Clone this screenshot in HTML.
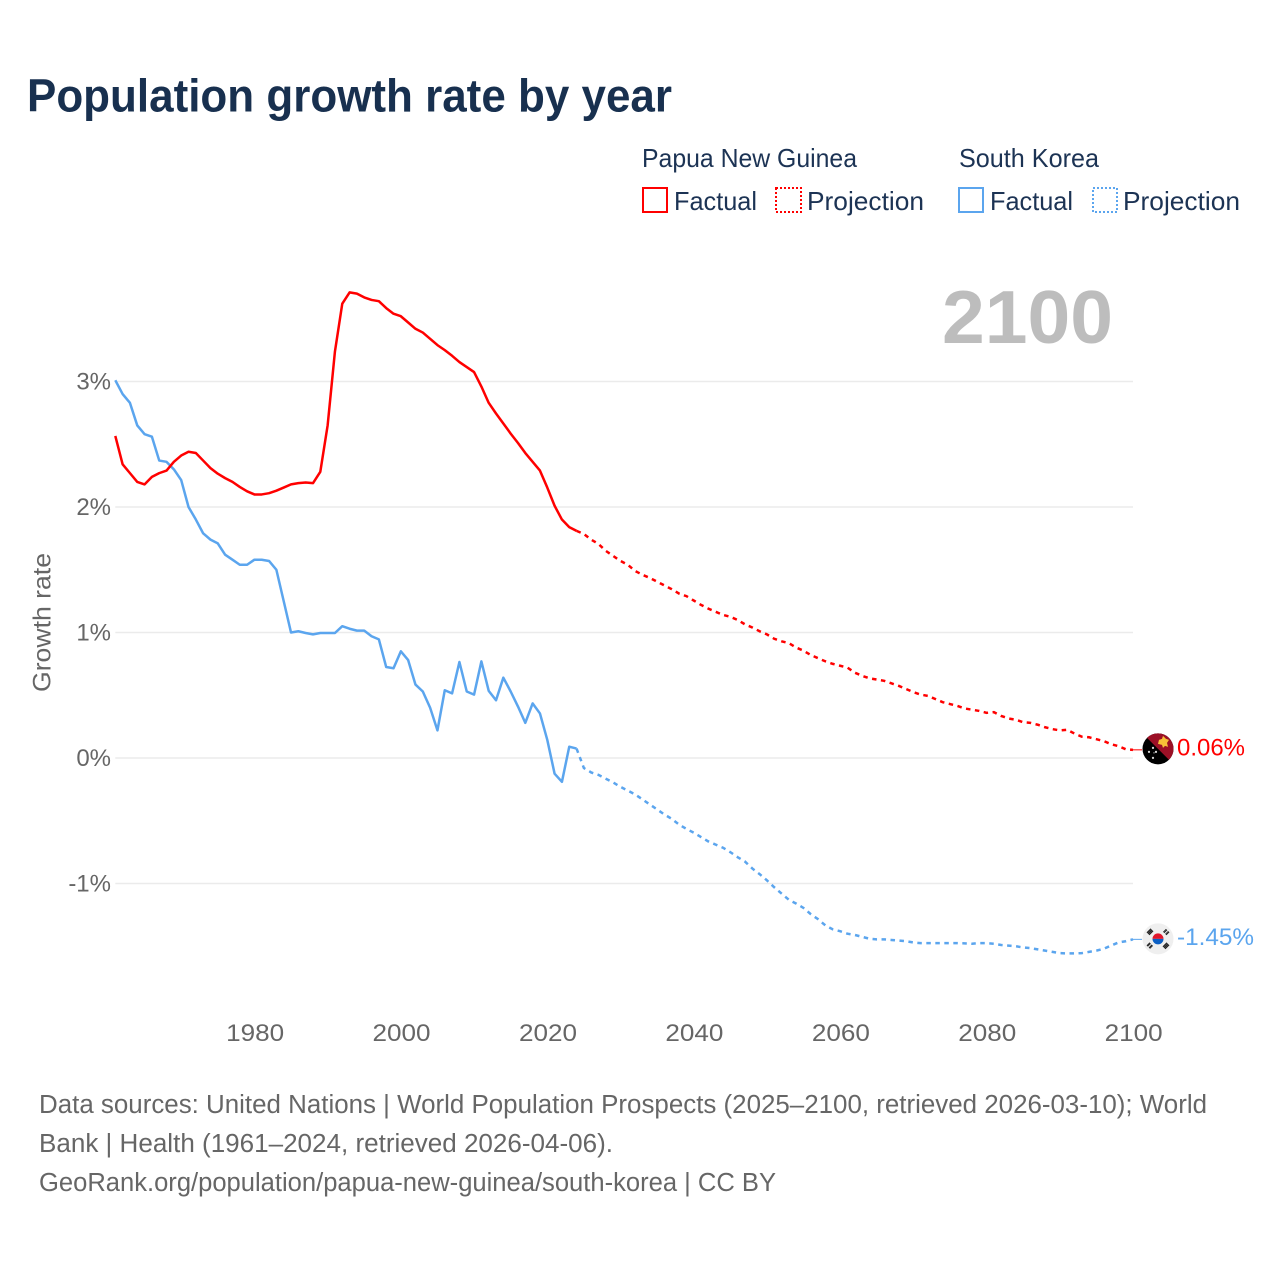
<!DOCTYPE html>
<html lang="en">
<head>
<meta charset="utf-8">
<title>Population growth rate by year</title>
<style>
html,body{margin:0;padding:0;background:#fff;}
svg{display:block;font-family:"Liberation Sans",sans-serif;}
</style>
</head>
<body>
<svg id="chart" width="1280" height="1280" viewBox="0 0 1280 1280" xmlns="http://www.w3.org/2000/svg">
  <defs>
    <clipPath id="flag-clip"><circle cx="0" cy="0" r="15.500"></circle></clipPath>
  </defs>
  <rect width="1280" height="1280" fill="#fff"></rect>
  <text x="27" y="111.500" font-size="46" font-weight="700" fill="#18304f" textLength="645" lengthAdjust="spacingAndGlyphs">Population growth rate by year</text>

  <g font-size="26" fill="#1c3354">
    <text x="642" y="167" textLength="215" lengthAdjust="spacingAndGlyphs">Papua New Guinea</text>
    <text x="959" y="167" textLength="140" lengthAdjust="spacingAndGlyphs">South Korea</text>
    <rect x="643" y="188" width="24" height="24" fill="none" stroke="#ff0000" stroke-width="2"></rect>
    <text x="674" y="210" textLength="83" lengthAdjust="spacingAndGlyphs">Factual</text>
    <rect x="776" y="188" width="25" height="24" fill="none" stroke="#ff0000" stroke-width="2" stroke-dasharray="2 2"></rect>
    <text x="807" y="210" textLength="117" lengthAdjust="spacingAndGlyphs">Projection</text>
    <rect x="959" y="188" width="24" height="24" fill="none" stroke="#5ba5ee" stroke-width="2"></rect>
    <text x="990" y="210" textLength="83" lengthAdjust="spacingAndGlyphs">Factual</text>
    <rect x="1093" y="188" width="24" height="24" fill="none" stroke="#5ba5ee" stroke-width="2" stroke-dasharray="2 2"></rect>
    <text x="1123" y="210" textLength="117" lengthAdjust="spacingAndGlyphs">Projection</text>
  </g>

  <text x="942" y="343" font-size="75" font-weight="700" fill="#bdbdbd" textLength="171" lengthAdjust="spacingAndGlyphs">2100</text>
  <text transform="translate(50.500 692) rotate(-90)" font-size="25" fill="#666666" textLength="139" lengthAdjust="spacingAndGlyphs">Growth rate</text>

  <g id="grid"></g>
  <g id="y-ticks"></g>
  <g id="x-ticks"></g>
  <g id="series"></g>

  <g id="flag-png">
    <g clip-path="url(#flag-clip)">
      <rect x="-16" y="-16" width="32" height="32" fill="#000"></rect>
      <polygon points="-16,-16 16,-16 16,16" fill="#9c1026"></polygon>
      <polygon points="1,-9 4,-10 5,-13 8,-10 11,-9 9,-6 10,-2 7,-3 5,-1 4,-4 0,-5" fill="#f7c237"></polygon>
      <circle cx="-5" cy="-1" r="1.100" fill="#ddd"></circle>
      <circle cx="-9" cy="3" r="1.100" fill="#ddd"></circle>
      <circle cx="-2" cy="3" r="1.100" fill="#ddd"></circle>
      <circle cx="-5" cy="9" r="1.100" fill="#ddd"></circle>
      <circle cx="-4" cy="4" r="0.600" fill="#ddd"></circle>
    </g>
  </g>
  <g id="flag-kr">
    <g clip-path="url(#flag-clip)">
      <rect x="-16" y="-16" width="32" height="32" fill="#efefef"></rect>
      <path d="M-5.500 0A5.500 5.500 0 0 1 5.500 0Z" fill="#e0162b"></path>
      <path d="M-5.500 0A5.500 5.500 0 0 0 5.500 0Z" fill="#0b5fc4"></path>
      <g stroke="#222" stroke-width="1.300" fill="none">
        <path d="M-11 -6L-7 -10M-10 -5L-6 -9M-9 -4L-5 -8"></path>
        <path d="M11 -6L7 -10M10 -5L6 -9M9 -4L5 -8" stroke-dasharray="2 1"></path>
        <path d="M-11 6L-7 10M-10 5L-6 9M-9 4L-5 8" stroke-dasharray="2 1"></path>
        <path d="M11 6L7 10M10 5L6 9M9 4L5 8"></path>
      </g>
    </g>
  </g>
  <g id="end-labels"></g>

  <g font-size="25.500" fill="#666666">
    <text x="39" y="1113" textLength="1168" lengthAdjust="spacingAndGlyphs">Data sources: United Nations | World Population Prospects (2025–2100, retrieved 2026-03-10); World</text>
    <text x="39" y="1152" textLength="574" lengthAdjust="spacingAndGlyphs">Bank | Health (1961–2024, retrieved 2026-04-06).</text>
    <text x="39" y="1191" textLength="737" lengthAdjust="spacingAndGlyphs">GeoRank.org/population/papua-new-guinea/south-korea | CC BY</text>
  </g>
</svg>
<script>
const firstFactualYear = 1961;
const firstProjectionYear = 2025;
const lastYear = 2100;
const yTickValues = [3, 2, 1, 0, -1];
const yTickLabels = ['3%', '2%', '1%', '0%', '-1%'];
const xTickValues = [1980, 2000, 2020, 2040, 2060, 2080, 2100];
const pngEndLabel = '0.06%';
const krEndLabel = '-1.45%';

const pngFactual = [
  2.566, 2.34, 2.27, 2.20, 2.18, 2.24, 2.27, 2.29, 2.36, 2.41,
  2.44, 2.43, 2.37, 2.31, 2.265, 2.23, 2.20, 2.16, 2.125, 2.10,
  2.10, 2.11, 2.13, 2.155, 2.18, 2.19, 2.195, 2.19, 2.28, 2.65,
  3.24, 3.62, 3.71, 3.70, 3.67, 3.65, 3.64, 3.585, 3.54, 3.52,
  3.47, 3.42, 3.39, 3.34, 3.29, 3.25, 3.205, 3.155, 3.115, 3.075,
  2.96, 2.83, 2.745, 2.665, 2.585, 2.51, 2.43, 2.36, 2.29, 2.155,
  2.01, 1.90, 1.84, 1.81
];
const pngProjection = [
  1.785, 1.74, 1.705, 1.65, 1.61, 1.57, 1.54, 1.49, 1.46, 1.435,
  1.405, 1.375, 1.345, 1.31, 1.29, 1.255, 1.22, 1.19, 1.165, 1.14,
  1.125, 1.10, 1.065, 1.04, 1.01, 0.985, 0.95, 0.93, 0.915, 0.88,
  0.855, 0.82, 0.795, 0.77, 0.75, 0.735, 0.72, 0.68, 0.655, 0.635,
  0.625, 0.615, 0.595, 0.575, 0.55, 0.525, 0.505, 0.495, 0.47, 0.445,
  0.43, 0.415, 0.395, 0.385, 0.375, 0.36, 0.365, 0.335, 0.315, 0.305,
  0.285, 0.28, 0.265, 0.245, 0.23, 0.22, 0.225, 0.195, 0.17, 0.165,
  0.15, 0.135, 0.11, 0.095, 0.07, 0.065
];
const krFactual = [
  3.01, 2.90, 2.83, 2.65, 2.58, 2.56, 2.37, 2.36, 2.30, 2.215,
  2.00, 1.90, 1.79, 1.74, 1.71, 1.62, 1.58, 1.54, 1.54, 1.58,
  1.58, 1.57, 1.50, 1.25, 1.00, 1.01, 0.996, 0.985, 0.996, 0.996,
  0.996, 1.05, 1.03, 1.015, 1.015, 0.97, 0.945, 0.725, 0.715, 0.85,
  0.78, 0.585, 0.53, 0.40, 0.22, 0.54, 0.515, 0.765, 0.53, 0.505,
  0.77, 0.535, 0.46, 0.64, 0.53, 0.41, 0.28, 0.435, 0.355, 0.145,
  -0.125, -0.19, 0.09, 0.075
];
const krProjection = [
  -0.08, -0.115, -0.135, -0.165, -0.195, -0.23, -0.26, -0.29, -0.33, -0.37,
  -0.41, -0.45, -0.485, -0.53, -0.565, -0.595, -0.63, -0.665, -0.69, -0.715,
  -0.75, -0.79, -0.825, -0.88, -0.925, -0.975, -1.03, -1.08, -1.13, -1.16,
  -1.195, -1.245, -1.285, -1.335, -1.365, -1.38, -1.40, -1.41, -1.425, -1.44,
  -1.445, -1.445, -1.45, -1.455, -1.46, -1.47, -1.475, -1.475, -1.475, -1.475,
  -1.475, -1.475, -1.477, -1.48, -1.475, -1.475, -1.48, -1.49, -1.495, -1.50,
  -1.51, -1.515, -1.525, -1.535, -1.545, -1.555, -1.557, -1.557, -1.555, -1.545,
  -1.535, -1.52, -1.495, -1.47, -1.46, -1.445
];

const SVG_NS = 'http://www.w3.org/2000/svg';
const RED = '#ff0000';
const BLUE = '#5ba5ee';

function xScale(year) {
  return 115.3 + (year - firstFactualYear) * (1133 - 115.3) / (lastYear - firstFactualYear);
}
function yScale(value) {
  return 758 - value * 125.5;
}
function pathFrom(values, startYear) {
  return values.map(function (v, i) {
    return (i ? 'L' : 'M') + xScale(startYear + i).toFixed(2) + ' ' + yScale(v).toFixed(2);
  }).join('');
}

const gridGroup = document.getElementById('grid');
const yTickGroup = document.getElementById('y-ticks');
const xTickGroup = document.getElementById('x-ticks');
const seriesGroup = document.getElementById('series');
const endLabelGroup = document.getElementById('end-labels');

yTickValues.forEach(function (v, i) {
  const line = document.createElementNS(SVG_NS, 'line');
  
  
  line.setAttribute('x1', xScale(firstFactualYear));
  line.setAttribute('x2', xScale(lastYear));
  line.setAttribute('y1', yScale(v));
  line.setAttribute('y2', yScale(v));
  line.setAttribute('stroke', '#ebebeb');
  line.setAttribute('stroke-width', '1.5');
  gridGroup.appendChild(line);

  const label = document.createElementNS(SVG_NS, 'text');
  
  
  label.setAttribute('x', '111');
  label.setAttribute('y', yScale(v) + 8);
  label.setAttribute('text-anchor', 'end');
  label.setAttribute('font-size', '24');
  label.setAttribute('fill', '#666666');
  label.textContent = yTickLabels[i];
  yTickGroup.appendChild(label);
});

xTickValues.forEach(function (year) {
  const label = document.createElementNS(SVG_NS, 'text');
  
  
  label.setAttribute('x', xScale(year) + 0.7);
  label.setAttribute('y', '1041');
  label.setAttribute('text-anchor', 'middle');
  label.setAttribute('font-size', '24');
  label.setAttribute('fill', '#666666');
  label.setAttribute('textLength', '58');
  label.setAttribute('lengthAdjust', 'spacingAndGlyphs');
  label.textContent = String(year);
  xTickGroup.appendChild(label);
});

const krProjPath = document.createElementNS(SVG_NS, 'path');


krProjPath.setAttribute('d', pathFrom([krFactual[krFactual.length - 1]].concat(krProjection), firstProjectionYear - 1));
krProjPath.setAttribute('fill', 'none');
krProjPath.setAttribute('stroke', BLUE);
krProjPath.setAttribute('stroke-width', '2.5');
krProjPath.setAttribute('stroke-dasharray', '4.500 4.500');
seriesGroup.appendChild(krProjPath);

const krFactPath = document.createElementNS(SVG_NS, 'path');


krFactPath.setAttribute('d', pathFrom(krFactual, firstFactualYear));
krFactPath.setAttribute('fill', 'none');
krFactPath.setAttribute('stroke', BLUE);
krFactPath.setAttribute('stroke-width', '2.5');
krFactPath.setAttribute('stroke-linejoin', 'round');
seriesGroup.appendChild(krFactPath);

const pngProjPath = document.createElementNS(SVG_NS, 'path');


pngProjPath.setAttribute('d', pathFrom([pngFactual[pngFactual.length - 1]].concat(pngProjection), firstProjectionYear - 1));
pngProjPath.setAttribute('fill', 'none');
pngProjPath.setAttribute('stroke', RED);
pngProjPath.setAttribute('stroke-width', '2.5');
pngProjPath.setAttribute('stroke-dasharray', '4.500 4.500');
seriesGroup.appendChild(pngProjPath);

const pngFactPath = document.createElementNS(SVG_NS, 'path');


pngFactPath.setAttribute('d', pathFrom(pngFactual, firstFactualYear));
pngFactPath.setAttribute('fill', 'none');
pngFactPath.setAttribute('stroke', RED);
pngFactPath.setAttribute('stroke-width', '2.5');
pngFactPath.setAttribute('stroke-linejoin', 'round');
seriesGroup.appendChild(pngFactPath);

const pngEndY = yScale(pngProjection[pngProjection.length - 1]);
const krEndY = yScale(krProjection[krProjection.length - 1]);
const endX = xScale(lastYear);

const pngLeader = document.createElementNS(SVG_NS, 'line');


pngLeader.setAttribute('x1', endX);
pngLeader.setAttribute('x2', endX + 9);
pngLeader.setAttribute('y1', pngEndY);
pngLeader.setAttribute('y2', pngEndY);
pngLeader.setAttribute('stroke', RED);
pngLeader.setAttribute('stroke-width', '1');
seriesGroup.appendChild(pngLeader);

const krLeader = document.createElementNS(SVG_NS, 'line');


krLeader.setAttribute('x1', endX);
krLeader.setAttribute('x2', endX + 9);
krLeader.setAttribute('y1', krEndY);
krLeader.setAttribute('y2', krEndY);
krLeader.setAttribute('stroke', BLUE);
krLeader.setAttribute('stroke-width', '1');
seriesGroup.appendChild(krLeader);

document.getElementById('flag-png').setAttribute('transform', 'translate(' + (endX + 25) + ' ' + (pngEndY - 1) + ')');
document.getElementById('flag-kr').setAttribute('transform', 'translate(' + (endX + 25) + ' ' + (krEndY - 0.5) + ')');

const pngValueLabel = document.createElementNS(SVG_NS, 'text');


pngValueLabel.setAttribute('x', endX + 44);
pngValueLabel.setAttribute('y', pngEndY + 5.5);
pngValueLabel.setAttribute('font-size', '24');
pngValueLabel.setAttribute('fill', RED);
pngValueLabel.setAttribute('textLength', '68');
pngValueLabel.setAttribute('lengthAdjust', 'spacingAndGlyphs');
pngValueLabel.textContent = pngEndLabel;
endLabelGroup.appendChild(pngValueLabel);

const krValueLabel = document.createElementNS(SVG_NS, 'text');


krValueLabel.setAttribute('x', endX + 44);
krValueLabel.setAttribute('y', krEndY + 5.5);
krValueLabel.setAttribute('font-size', '24');
krValueLabel.setAttribute('fill', BLUE);
krValueLabel.setAttribute('textLength', '77');
krValueLabel.setAttribute('lengthAdjust', 'spacingAndGlyphs');
krValueLabel.textContent = krEndLabel;
endLabelGroup.appendChild(krValueLabel);
</script>
</body>
</html>
